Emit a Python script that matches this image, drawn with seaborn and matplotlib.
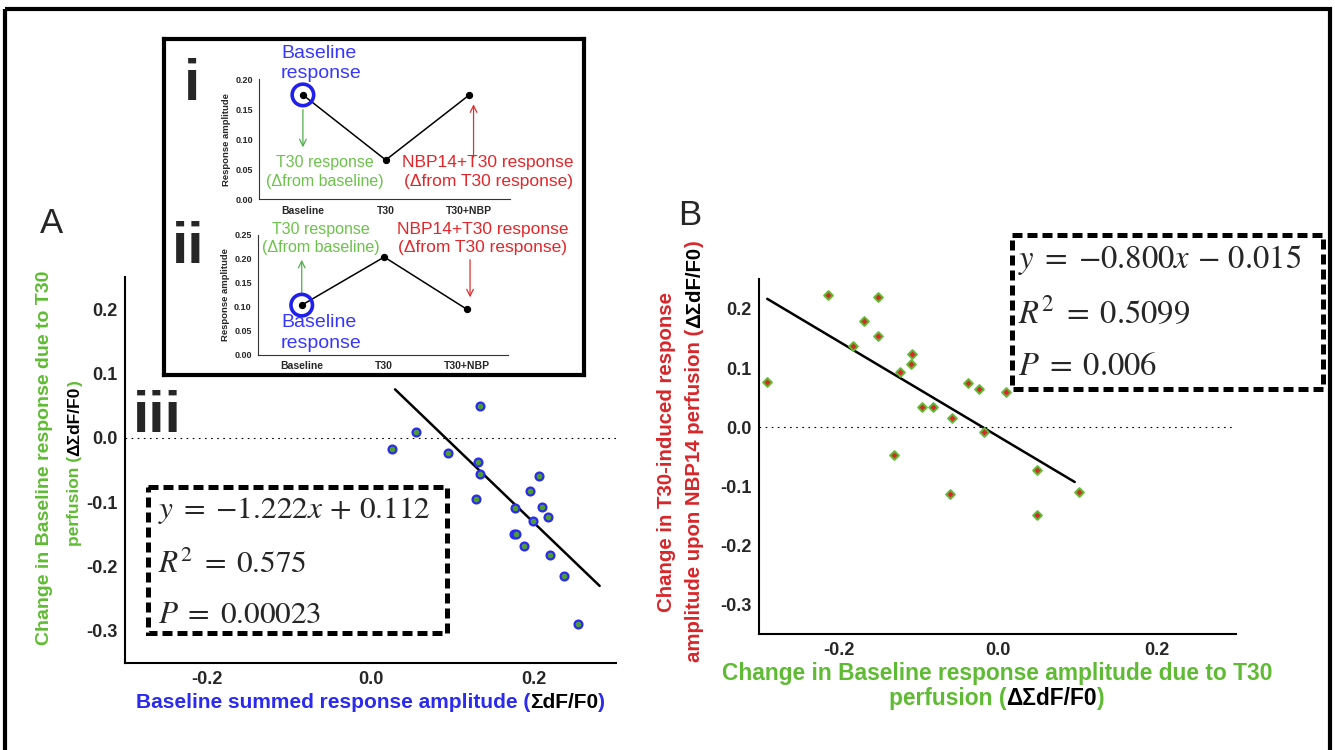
import matplotlib

matplotlib.use("Agg")
import matplotlib.pyplot as plt
import numpy as np
import seaborn as sns
from matplotlib.patches import Rectangle

W, H = 1335, 750
DPI = 100

# example response traces (insets i and ii)
STAGES = ["Baseline", "T30", "T30+NBP"]
inset_i_amp = [0.174, 0.0655, 0.173]
inset_ii_amp = [0.1035, 0.204, 0.095]
INSET_I_YTICKS = [0.00, 0.05, 0.10, 0.15, 0.20]
INSET_II_YTICKS = [0.00, 0.05, 0.10, 0.15, 0.20, 0.25]

# panel A: baseline amplitude vs change due to T30
a_baseline = [0.026, 0.056, 0.095, 0.134, 0.131, 0.134, 0.129, 0.206, 0.195, 0.176,
              0.209, 0.217, 0.198, 0.175, 0.178, 0.187, 0.219, 0.236, 0.253]
a_change = [-0.017, 0.009, -0.024, 0.050, -0.038, -0.056, -0.095, -0.059, -0.082, -0.109,
            -0.108, -0.123, -0.130, -0.150, -0.149, -0.168, -0.182, -0.214, -0.290]
A_SLOPE, A_INTERCEPT = -1.222, 0.112
A_FIT_X = [0.03, 0.28]
A_STATS = [r"$y\;=\;{-}1.222x\,+\,0.112$", r"$R^2\;=\;0.575$", r"$P\;=\;0.00023$"]

# panel B: change due to T30 vs change upon NBP14
b_change_t30 = [-0.290, -0.214, -0.150, -0.168, -0.150, -0.182, -0.108, -0.109, -0.123, -0.095,
                -0.082, -0.057, -0.037, -0.024, 0.010, -0.017, -0.130, -0.060, 0.050, 0.050, 0.102]
b_change_nbp = [0.076, 0.223, 0.220, 0.180, 0.155, 0.137, 0.124, 0.107, 0.093, 0.035,
                0.035, 0.016, 0.074, 0.064, 0.059, -0.008, -0.047, -0.113, -0.073, -0.149, -0.110]
B_SLOPE, B_INTERCEPT = -0.800, -0.015
B_FIT_X = [-0.29, 0.097]
B_STATS = [r"$y\;=\;{-}0.800x\,-\,0.015$", r"$R^2\;=\;0.5099$", r"$P\;=\;0.006$"]

X_TICKS = [-0.2, 0.0, 0.2]
Y_TICKS = [-0.3, -0.2, -0.1, 0.0, 0.1, 0.2]

BLUE = "#2a2af0"
GREEN = "#5fbb33"
RED = "#d8262a"
TEXT_GREEN = "#6cc24a"
TEXT_RED = "#e3262a"
TEXT_BLUE = "#3636ff"


def axes_px(fig, left, top, right, bottom, **kw):
    return fig.add_axes([left / W, 1 - bottom / H, (right - left) / W, (bottom - top) / H], **kw)


def label_parts(ov, cx, cy, parts, size, rotation=0):
    renderer = ov.figure.canvas.get_renderer()
    style = dict(fontsize=size, fontweight="bold", rotation=rotation)
    probe = ov.text(0, 0, "".join(s for s, _ in parts), **style)
    ext = probe.get_window_extent(renderer)
    probe.remove()
    if rotation == 0:
        prev = ov.text(cx - ext.width / 2, cy, parts[0][0], color=parts[0][1],
                       ha="left", va="center", **style)
        anchor = (1, 0)
    else:
        prev = ov.text(cx, cy + ext.height / 2, parts[0][0], color=parts[0][1],
                       ha="center", va="bottom", **style)
        anchor = (0, 1)
    for s, c in parts[1:]:
        prev = ov.annotate(s, xy=anchor, xycoords=prev, ha="left", va="bottom", color=c, **style)


def style_main_axes(ax):
    ax.set_xlim(-0.3, 0.3)
    ax.set_ylim(-0.35, 0.25)
    ax.set_xticks(X_TICKS, [f"{t:.1f}" for t in X_TICKS], fontweight="bold")
    ax.set_yticks(Y_TICKS, [f"{t:.1f}" for t in Y_TICKS], fontweight="bold")
    ax.tick_params(axis="both", length=3, width=1.2, labelsize=13, pad=2.5, color="black")
    ax.set_xlabel("")
    ax.set_ylabel("")
    sns.despine(ax=ax)
    for side in ("left", "bottom"):
        ax.spines[side].set_linewidth(1.5)
        ax.spines[side].set_color("black")
    ax.axhline(0, color="black", lw=0.8, ls=(0, (1.5, 4)), zorder=1)


def draw_inset(fig, box, amps, yticks):
    ax = axes_px(fig, *box, zorder=3)
    ax.set_facecolor("none")
    pos = np.arange(len(STAGES))
    sns.lineplot(x=pos, y=amps, color="black", lw=1.1, marker="o", markersize=4.5,
                 markeredgecolor="black", ax=ax)
    ax.scatter([pos[0]], [amps[0]], s=240, facecolors="none", edgecolors="#2020ee",
               linewidths=2.6, clip_on=False, zorder=4)
    ax.set_xlim(-0.53, 2.5)
    ax.set_ylim(yticks[0], yticks[-1])
    ax.set_xticks(pos, STAGES, fontweight="bold")
    ax.set_yticks(yticks, [f"{t:.2f}" for t in yticks], fontweight="bold")
    ax.tick_params(axis="x", length=3, width=0.8, labelsize=7.5, pad=1.5)
    ax.tick_params(axis="y", length=3, width=0.8, labelsize=6.5, pad=1.5)
    ax.set_ylabel("Response amplitude", fontsize=6.8, fontweight="bold", labelpad=3)
    sns.despine(ax=ax)
    for side in ("left", "bottom"):
        ax.spines[side].set_linewidth(0.8)
        ax.spines[side].set_color("#333333")
    return ax


def main():
    sns.set_theme(style="white")
    plt.rcParams["font.family"] = ["Liberation Sans", "DejaVu Sans"]
    plt.rcParams["mathtext.fontset"] = "stix"
    plt.rcParams["axes.unicode_minus"] = False

    fig = plt.figure(figsize=(W / DPI, H / DPI), dpi=DPI, facecolor="white")

    # panel A
    ax_a = axes_px(fig, 125, 277, 616, 663, zorder=1)
    ax_a.set_facecolor("none")
    sns.scatterplot(x=a_baseline, y=a_change, s=32, color="#4f9e2d", edgecolor=BLUE,
                    linewidth=1.6, ax=ax_a, zorder=3)
    fx = np.array(A_FIT_X)
    sns.lineplot(x=fx, y=A_SLOPE * fx + A_INTERCEPT, color="black", lw=1.8, ax=ax_a)
    style_main_axes(ax_a)

    # panel B
    ax_b = axes_px(fig, 759.3, 279.3, 1236, 634.3, zorder=1)
    ax_b.set_facecolor("none")
    sns.scatterplot(x=b_change_t30, y=b_change_nbp, s=20, marker="D", color="#d42a2a",
                    edgecolor=GREEN, linewidth=1.4, ax=ax_b, zorder=3)
    fx = np.array(B_FIT_X)
    sns.lineplot(x=fx, y=B_SLOPE * fx + B_INTERCEPT, color="black", lw=1.8, ax=ax_b)
    style_main_axes(ax_b)

    # inset frame and traces
    frame = axes_px(fig, 164, 39, 584, 375, zorder=2)
    frame.set_facecolor("white")
    frame.set_xticks([])
    frame.set_yticks([])
    for sp in frame.spines.values():
        sp.set_visible(True)
        sp.set_linewidth(3)
        sp.set_color("black")

    ax_i = draw_inset(fig, (259, 79.3, 510, 199.3), inset_i_amp, INSET_I_YTICKS)
    ax_i.annotate("", xy=(0, 0.082), xytext=(0, 0.154),
                  arrowprops=dict(arrowstyle="->", color="#4fae48", lw=0.9))
    ax_i.annotate("", xy=(2.06, 0.163), xytext=(2.06, 0.0655),
                  arrowprops=dict(arrowstyle="->", color="#e03030", lw=0.9))

    ax_ii = draw_inset(fig, (258, 235, 508, 354.7), inset_ii_amp, INSET_II_YTICKS)
    ax_ii.annotate("", xy=(0, 0.204), xytext=(0, 0.121),
                   arrowprops=dict(arrowstyle="->", color="#4fae48", lw=0.9))
    ax_ii.annotate("", xy=(2.04, 0.114), xytext=(2.04, 0.204),
                   arrowprops=dict(arrowstyle="->", color="#e03030", lw=0.9))

    # overlay in pixel coordinates for figure-level text
    ov = fig.add_axes([0, 0, 1, 1], zorder=5)
    ov.set_xlim(0, W)
    ov.set_ylim(H, 0)
    ov.axis("off")

    ov.add_patch(Rectangle((5, 9), W - 10, H + 20, fill=False, lw=3, edgecolor="black"))

    ov.text(40, 233, "A", fontsize=25, va="baseline", ha="left")
    ov.text(678, 225, "B", fontsize=25, va="baseline", ha="left")
    ov.text(191.5, 100, "i", fontsize=42, fontweight="bold", va="baseline", ha="center")
    ov.text(188, 263, "ii", fontsize=42, fontweight="bold", va="baseline", ha="center")
    ov.text(157.5, 432, "iii", fontsize=42, fontweight="bold", va="baseline", ha="center")

    # inset annotations
    for y0, y1, gx, rx in [(162.7, 181.7, 325, 488), (229.3, 247.7, 321, 483)]:
        ov.text(gx, y0, "T30 response", color=TEXT_GREEN, fontsize=11.5, ha="center", va="center")
        ov.text(gx, y1, "(\u0394from baseline)", color=TEXT_GREEN, fontsize=11.5,
                ha="center", va="center")
        ov.text(rx, y0, "NBP14+T30 response", color=TEXT_RED, fontsize=12.5,
                ha="center", va="center")
        ov.text(rx, y1, "(\u0394from T30 response)", color=TEXT_RED, fontsize=12.5,
                ha="center", va="center")
    for y0, y1 in [(54, 74), (322.7, 343.3)]:
        ov.text(281, y0, "Baseline", color=TEXT_BLUE, fontsize=14, ha="left", va="center")
        ov.text(281, y1, "response", color=TEXT_BLUE, fontsize=14, ha="left", va="center")

    # regression boxes
    ov.add_patch(Rectangle((148.3, 487.3), 298.4, 145.4, fill=False, lw=3.6,
                           edgecolor="black", ls=(0, (2, 1))))
    for s, yb in zip(A_STATS, [518.3, 573.3, 623.3]):
        ov.text(158.3, yb, s, fontsize=22.5, va="baseline", ha="left")
    ov.add_patch(Rectangle((1011.7, 235), 311.6, 154, fill=False, lw=3.6,
                           edgecolor="black", ls=(0, (2, 1))))
    for s, yb in zip(B_STATS, [268.3, 323.3, 375]):
        ov.text(1018.3, yb, s, fontsize=23.5, va="baseline", ha="left")

    # axis labels with coloured parts
    label_parts(ov, 45, 458, [("Change in Baseline response due to T30", GREEN)], 14, rotation=90)
    label_parts(ov, 75, 463, [("perfusion (", GREEN), ("\u0394\u03a3dF/F0", "black"), (")", GREEN)],
                12.5, rotation=90)
    label_parts(ov, 370.5, 702, [("Baseline summed response amplitude (", BLUE),
                                 ("\u03a3dF/F0", "black"), (")", BLUE)], 15)
    label_parts(ov, 666.7, 451.5, [("Change in T30-induced response", RED)], 14.7, rotation=90)
    label_parts(ov, 695, 451, [("amplitude upon NBP14 perfusion (", RED),
                               ("\u0394\u03a3dF/F0", "black"), (")", RED)], 14.7, rotation=90)
    label_parts(ov, 997.5, 673.3, [("Change in Baseline response amplitude due to T30", GREEN)], 16.4)
    label_parts(ov, 996.7, 698.3, [("perfusion (", GREEN), ("\u0394\u03a3dF/F0", "black"),
                                   (")", GREEN)], 16.4)

    fig.savefig("out.png", dpi=DPI, facecolor="white")
    plt.close(fig)


if __name__ == "__main__":
    main()
